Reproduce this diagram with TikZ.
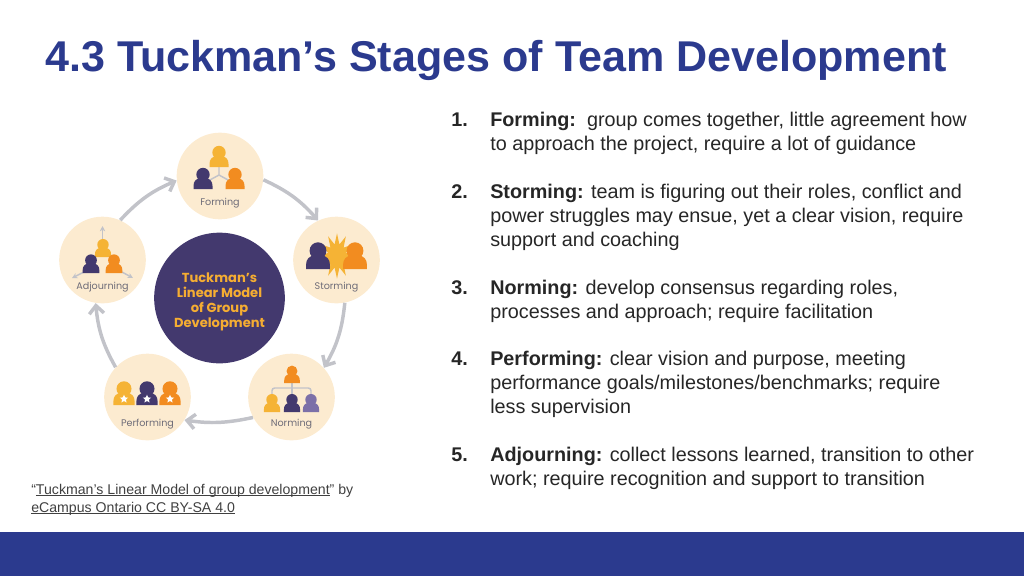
\documentclass[tikz,border=0pt]{standalone}
\usepackage{fontspec}
\setmainfont{Liberation Sans}
\newfontfamily\iconfont{Poppins}
\usetikzlibrary{positioning,arrows.meta,shapes.geometric}

\definecolor{slideblue}{HTML}{2B3A8E}
\definecolor{cream}{HTML}{FCEBD0}
\definecolor{navy}{HTML}{43396E}
\definecolor{amber}{HTML}{F5B335}
\definecolor{tangerine}{HTML}{F28C20}
\definecolor{lilac}{HTML}{7C70A8}
\definecolor{flowgrey}{HTML}{C2C3C9}
\definecolor{labelgrey}{HTML}{6E6C78}
\definecolor{bodytext}{HTML}{262626}

\newcommand{\linked}[1]{\setbox0\hbox{#1}\rlap{\rule[-1.3pt]{\wd0}{0.7pt}}\box0 }

\tikzset{
    person/.pic={
        \path[pic actions] (0,-14.5) circle[radius=6.7];
        \path[pic actions] (-9.5,0) -- (-9.5,-3) .. controls (-9.5,-8) and (-7,-10) .. (-3,-11)
            -- (3,-11) .. controls (7,-10) and (9.5,-8) .. (9.5,-3) -- (9.5,0) -- cycle;
    }
}

\begin{document}
\begin{tikzpicture}[x=0.75pt,y=-0.75pt]

\tikzstyle{stage}=[
    circle,
    fill=cream,
    minimum size=65pt,
    inner sep=0pt
]
\tikzstyle{stagename}=[
    font=\iconfont\fontsize{7.2}{9}\selectfont,
    text=labelgrey,
    inner sep=0pt
]
\tikzstyle{flow}=[
    draw=flowgrey,
    line width=2.6pt,
    -{Straight Barb[length=6pt,width=11pt]}
]
\tikzstyle{tiny}=[
    draw=flowgrey,
    line width=1.1pt
]
\tikzstyle{num}=[
    font=\bfseries\fontsize{14.85}{18}\selectfont,
    text=bodytext,
    anchor=north west,
    inner sep=0pt
]
\tikzstyle{item}=[
    font=\fontsize{14.85}{18}\selectfont,
    text=bodytext,
    align=left,
    anchor=north west,
    inner sep=0pt
]
\tikzstyle{credit}=[
    font=\fontsize{10.6}{13.2}\selectfont,
    text=black!75,
    align=left,
    anchor=north west,
    inner sep=0pt
]

\useasboundingbox (0,0) rectangle (1024,576);

\fill[slideblue] (0,532) rectangle (1024,576);
\node[anchor=west,inner sep=0pt,text=slideblue,font=\bfseries\fontsize{32.3}{38}\selectfont] (title) at (45,60.5)
    {4.3 Tuckman’s Stages of Team Development};

% ring of stages
\node[circle,fill=navy,minimum size=98pt,inner sep=0pt] (centre) at (219.5,298) {};
\node[align=center,inner sep=0pt,text=amber!85!tangerine,
    font=\iconfont\bfseries\fontsize{9.8}{11.3}\selectfont] (centrename) at (219.5,302) 
    {Tuckman’s\\Linear Model\\of Group\\Development};
\node[stage] (forming) at (220,176) {};
\node[stage] (storming) at (336.5,260) {};
\node[stage] (norming) at (291.5,397) {};
\node[stage] (performing) at (147.5,397) {};
\node[stage] (adjourning) at (102.5,260) {};

\node[stagename] (formingname) at (220,203) {Forming};
\node[stagename] (stormingname) at (336.5,287) {Storming};
\node[stagename] (normingname) at (291.5,424.5) {Norming};
\node[stagename] (performingname) at (147.5,424.5) {Performing};
\node[stagename] (adjourningname) at (102.5,287) {Adjourning};

\draw[flow] (forming.-5) to[bend left=12] (storming.115);
\draw[flow] (storming.-79) to[bend left=12] (norming.42);
\draw[flow] (norming.208) to[bend left=10] (performing.-32);
\draw[flow] (performing.137) to[bend left=12] (adjourning.-99);
\draw[flow] (adjourning.66) to[bend left=12] (forming.186);

% forming
\draw[tiny] (219,166) -- (219,175) -- (208,181) (219,175) -- (230,181);
\pic[fill=amber] (forma) at (219,167) {person};
\pic[fill=navy] (formb) at (203,189) {person};
\pic[fill=tangerine] (formc) at (235,189) {person};

% storming
\node[star,star points=12,star point ratio=1.9,fill=amber,minimum size=34pt,inner sep=0pt,
    xscale=.78,transform shape] (burst) at (337,256) {};
\pic[fill=navy,scale=1.26] (stormb) at (318,269) {person};
\pic[fill=tangerine,scale=1.26] (stormc) at (355,269) {person};

% norming
\draw[tiny,rounded corners=2pt] (272,394) -- (272,388) -- (311,388) -- (311,394);
\draw[tiny] (292,383) -- (292,394);
\pic[fill=tangerine,scale=.82] (norma) at (292,383) {person};
\pic[fill=amber,scale=.85] (normb) at (272,412) {person};
\pic[fill=navy,scale=.85] (normc) at (292,412) {person};
\pic[fill=lilac,scale=.85] (normd) at (311,412) {person};

% performing
\pic[fill=amber,scale=1.12] (perfa) at (124,405) {person};
\pic[fill=navy,scale=1.12] (perfb) at (147,405) {person};
\pic[fill=tangerine,scale=1.12] (perfc) at (170,405) {person};
\foreach \px/\pname in {124/stara,147/starb,170/starc}
    \node[star,star points=5,star point ratio=2.2,fill=white,minimum size=6.5pt,inner sep=0pt] (\pname) at (\px,399) {};

% adjourning
\coordinate (upa) at (102.5,240);
\coordinate (upb) at (102.5,226);
\coordinate (lefta) at (84,272);
\coordinate (leftb) at (72,278);
\coordinate (righta) at (122,272);
\coordinate (rightb) at (133,278);
\draw[tiny,-{Stealth[length=4pt,width=4pt]}] (upa) -- (upb);
\draw[tiny,-{Stealth[length=4pt,width=4pt]}] (lefta) -- (leftb);
\draw[tiny,-{Stealth[length=4pt,width=4pt]}] (righta) -- (rightb);
\pic[fill=amber,scale=.85] (adja) at (103,257) {person};
\pic[fill=navy,scale=.88] (adjb) at (91,273) {person};
\pic[fill=tangerine,scale=.88] (adjc) at (114,273) {person};

\node[credit] (source) at (31,484)
    {“\linked{Tuckman’s Linear Model of group development}” by\\
     \linked{eCampus Ontario CC BY-SA 4.0}};

% list
\node[num] (n1) at (451,112) {\vphantom{d}1.};
\node[item] (t1) at (490,112) {\textbf{Forming:}\ \ group comes together, little agreement how\\to approach the project, require a lot of guidance};
\node[num] (n2) at (451,184) {\vphantom{d}2.};
\node[item] (t2) at (490,184) {\textbf{Storming:} team is figuring out their roles, conflict and\\power struggles may ensue, yet a clear vision, require\\support and coaching};
\node[num] (n3) at (451,280) {\vphantom{d}3.};
\node[item] (t3) at (490,280) {\textbf{Norming:} develop consensus regarding roles,\\processes and approach; require facilitation};
\node[num] (n4) at (451,351) {\vphantom{d}4.};
\node[item] (t4) at (490,351) {\textbf{Performing:} clear vision and purpose, meeting\\performance goals/milestones/benchmarks; require\\less supervision};
\node[num] (n5) at (451,447) {\vphantom{d}5.};
\node[item] (t5) at (490,447) {\textbf{Adjourning:} collect lessons learned, transition to other\\work; require recognition and support to transition};

\end{tikzpicture}
\end{document}
